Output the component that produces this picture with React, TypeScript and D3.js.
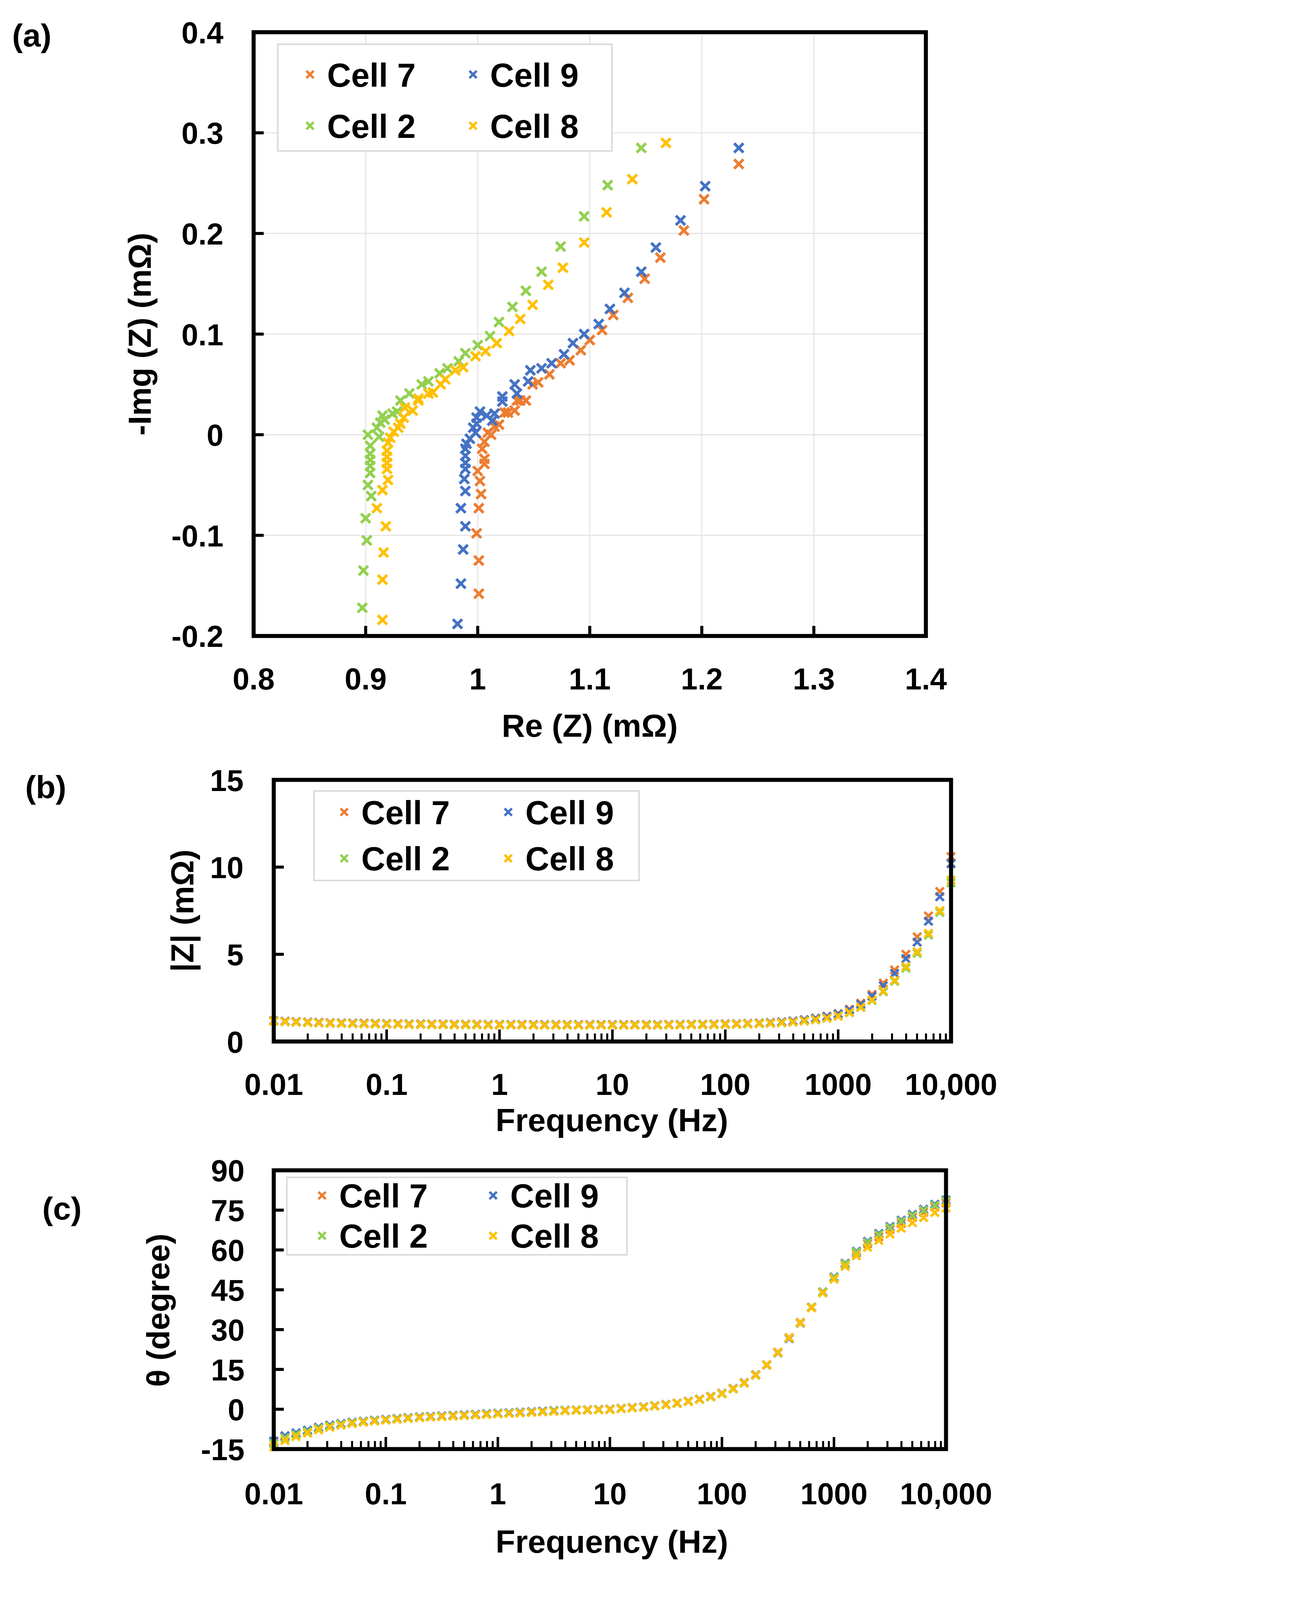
import * as d3 from 'd3';

const COLORS: Record<string, string> = {
  'Cell 7': '#ED7D31',
  'Cell 9': '#4472C4',
  'Cell 2': '#92D050',
  'Cell 8': '#FFC000',
};
const SERIES = ['Cell 7', 'Cell 9', 'Cell 2', 'Cell 8'];

// ── (a) Nyquist data: [Re, -Im] in mΩ ──
const nyq7: [number, number][] = [
  [1.233, 0.269], [1.202, 0.234], [1.184, 0.203], [1.163, 0.176], [1.149, 0.155], [1.134, 0.136],
  [1.121, 0.119], [1.111, 0.104], [1.1, 0.094], [1.092, 0.084], [1.082, 0.074], [1.074, 0.071],
  [1.064, 0.06], [1.054, 0.052], [1.049, 0.05], [1.043, 0.034], [1.038, 0.034], [1.035, 0.034],
  [1.033, 0.024], [1.027, 0.022], [1.024, 0.022], [1.019, 0.01], [1.015, 0.008], [1.012, 0],
  [1.009, 0.002], [1.006, -0.007], [1.004, -0.014], [1.006, -0.024], [1.006, -0.029], [1.0, -0.036],
  [1.002, -0.046], [1.003, -0.059], [1.001, -0.073], [0.999, -0.098], [1.001, -0.125], [1.001, -0.158],
];
const nyq9: [number, number][] = [
  [1.233, 0.285], [1.203, 0.247], [1.181, 0.213], [1.159, 0.186], [1.146, 0.162], [1.131, 0.141],
  [1.118, 0.125], [1.108, 0.11], [1.095, 0.1], [1.085, 0.091], [1.077, 0.08], [1.066, 0.071],
  [1.057, 0.066], [1.047, 0.064], [1.045, 0.053], [1.035, 0.041], [1.033, 0.05], [1.022, 0.038],
  [1.022, 0.033], [1.015, 0.021], [1.013, 0.014], [1.008, 0.019], [1.002, 0.023], [0.999, 0.017],
  [0.999, 0.011], [0.996, 0.007], [0.998, 0.002], [0.993, -0.004], [0.99, -0.009], [0.989, -0.014],
  [0.989, -0.021], [0.989, -0.028], [0.989, -0.034], [0.988, -0.044], [0.989, -0.056], [0.985, -0.073],
  [0.989, -0.091], [0.987, -0.114], [0.985, -0.148], [0.982, -0.188],
];
const nyq2: [number, number][] = [
  [1.146, 0.285], [1.116, 0.248], [1.095, 0.217], [1.074, 0.187], [1.057, 0.162], [1.043, 0.143],
  [1.031, 0.127], [1.019, 0.112], [1.011, 0.098], [1.0, 0.089], [0.989, 0.081], [0.983, 0.073],
  [0.973, 0.066], [0.966, 0.061], [0.956, 0.053], [0.95, 0.05], [0.939, 0.041], [0.931, 0.034],
  [0.928, 0.023], [0.924, 0.021], [0.917, 0.015], [0.915, 0.019], [0.913, 0.012], [0.91, 0.007],
  [0.912, -0.002], [0.902, 0], [0.904, -0.011], [0.904, -0.019], [0.904, -0.025], [0.904, -0.031],
  [0.904, -0.038], [0.902, -0.05], [0.905, -0.061], [0.9, -0.083], [0.901, -0.105], [0.898, -0.135],
  [0.897, -0.172],
];
const nyq8: [number, number][] = [
  [1.168, 0.29], [1.138, 0.254], [1.115, 0.221], [1.095, 0.191], [1.076, 0.166], [1.063, 0.149],
  [1.049, 0.129], [1.038, 0.115], [1.028, 0.103], [1.017, 0.091], [1.007, 0.083], [0.998, 0.078],
  [0.987, 0.067], [0.98, 0.064], [0.971, 0.055], [0.967, 0.05], [0.96, 0.042], [0.956, 0.041],
  [0.947, 0.034], [0.947, 0.036], [0.942, 0.024], [0.935, 0.027], [0.934, 0.017], [0.931, 0.011],
  [0.929, 0.007], [0.925, 0.003], [0.922, -0.003], [0.92, -0.008], [0.919, -0.016], [0.919, -0.022],
  [0.919, -0.028], [0.919, -0.034], [0.92, -0.045], [0.915, -0.055], [0.91, -0.073], [0.918, -0.091],
  [0.916, -0.117], [0.915, -0.144], [0.915, -0.184],
];
const NYQ: Record<string, [number, number][]> = { 'Cell 7': nyq7, 'Cell 9': nyq9, 'Cell 2': nyq2, 'Cell 8': nyq8 };

// ── (b),(c) frequency sweep ──
const FREQ = [
  0.01, 0.0126, 0.0158, 0.02, 0.0251, 0.0316, 0.0398, 0.0501, 0.0631, 0.0794,
  0.1, 0.126, 0.158, 0.2, 0.251, 0.316, 0.398, 0.501, 0.631, 0.794,
  1, 1.26, 1.58, 2, 2.51, 3.16, 3.98, 5.01, 6.31, 7.94,
  10, 12.6, 15.8, 20, 25.1, 31.6, 39.8, 50.1, 63.1, 79.4,
  100, 126, 158, 200, 251, 316, 398, 501, 631, 794,
  1000, 1259, 1585, 1995, 2512, 3162, 3981, 5012, 6310, 7943, 10000,
];

const mag7 = [
  1.2, 1.17, 1.14, 1.12, 1.1, 1.08, 1.07, 1.06, 1.05, 1.04,
  1.03, 1.02, 1.01, 1.01, 1.0, 1.0, 0.99, 0.99, 0.99, 0.98,
  0.98, 0.98, 0.98, 0.97, 0.97, 0.97, 0.97, 0.97, 0.97, 0.97,
  0.97, 0.97, 0.97, 0.97, 0.97, 0.98, 0.98, 0.99, 0.99, 1.0,
  1.01, 1.02, 1.04, 1.06, 1.09, 1.13, 1.18, 1.25, 1.34, 1.45,
  1.6, 1.85, 2.2, 2.7, 3.35, 4.1, 5.0, 6.0, 7.2, 8.6, 10.6,
];
const mag9 = [
  1.19, 1.16, 1.13, 1.11, 1.09, 1.07, 1.06, 1.05, 1.04, 1.03,
  1.02, 1.01, 1.0, 1.0, 0.99, 0.99, 0.98, 0.98, 0.98, 0.97,
  0.97, 0.97, 0.97, 0.96, 0.96, 0.96, 0.96, 0.96, 0.96, 0.96,
  0.96, 0.96, 0.96, 0.96, 0.96, 0.97, 0.97, 0.98, 0.98, 0.99,
  1.0, 1.01, 1.03, 1.05, 1.08, 1.12, 1.17, 1.24, 1.32, 1.43,
  1.57, 1.8, 2.12, 2.6, 3.2, 3.9, 4.75, 5.7, 6.9, 8.3, 10.2,
];
const mag2 = [
  1.16, 1.13, 1.1, 1.08, 1.06, 1.04, 1.03, 1.02, 1.01, 1.0,
  0.99, 0.98, 0.97, 0.97, 0.96, 0.96, 0.95, 0.95, 0.95, 0.94,
  0.94, 0.94, 0.94, 0.93, 0.93, 0.93, 0.93, 0.93, 0.93, 0.93,
  0.93, 0.93, 0.93, 0.93, 0.93, 0.94, 0.94, 0.95, 0.95, 0.96,
  0.97, 0.98, 1.0, 1.02, 1.04, 1.07, 1.11, 1.17, 1.24, 1.33,
  1.45, 1.65, 1.95, 2.35, 2.85, 3.45, 4.2, 5.05, 6.1, 7.4, 9.1,
];
const mag8 = [
  1.17, 1.14, 1.11, 1.09, 1.07, 1.05, 1.04, 1.03, 1.02, 1.01,
  1.0, 0.99, 0.98, 0.98, 0.97, 0.97, 0.96, 0.96, 0.96, 0.95,
  0.95, 0.95, 0.95, 0.94, 0.94, 0.94, 0.94, 0.94, 0.94, 0.94,
  0.94, 0.94, 0.94, 0.94, 0.94, 0.95, 0.95, 0.96, 0.96, 0.97,
  0.98, 0.99, 1.01, 1.03, 1.05, 1.08, 1.12, 1.18, 1.25, 1.34,
  1.46, 1.67, 1.97, 2.38, 2.9, 3.5, 4.3, 5.15, 6.2, 7.5, 9.25,
];
const MAG: Record<string, number[]> = { 'Cell 7': mag7, 'Cell 9': mag9, 'Cell 2': mag2, 'Cell 8': mag8 };

const ph7 = [
  -12.5, -10.4, -9.2, -8.1, -7.0, -6.2, -5.5, -5.0, -4.6, -4.2,
  -3.9, -3.6, -3.3, -3.0, -2.8, -2.6, -2.4, -2.2, -2.0, -1.8,
  -1.6, -1.4, -1.2, -1.0, -0.8, -0.6, -0.4, -0.3, -0.2, -0.1,
  0.0, 0.3, 0.6, 0.9, 1.3, 1.8, 2.3, 3.0, 3.8, 4.8,
  6.0, 7.8, 10.0, 13.0, 16.8, 21.5, 27.0, 32.7, 38.5, 44.2,
  49.6, 54.6, 58.8, 62.3, 65.0, 67.7, 70.0, 72.3, 74.2, 76.2, 77.7,
];
const ph9 = [
  -12.0, -10.0, -8.9, -7.9, -6.8, -6.0, -5.4, -4.9, -4.5, -4.1,
  -3.8, -3.5, -3.2, -2.9, -2.7, -2.5, -2.3, -2.1, -1.9, -1.7,
  -1.5, -1.3, -1.1, -0.9, -0.7, -0.5, -0.4, -0.3, -0.2, -0.1,
  0.0, 0.3, 0.6, 0.9, 1.3, 1.8, 2.3, 3.0, 3.8, 4.8,
  6.0, 7.8, 10.0, 13.0, 16.6, 21.2, 26.6, 32.4, 38.3, 44.2,
  49.8, 55.0, 59.5, 63.2, 66.2, 68.8, 71.2, 73.4, 75.3, 77.2, 78.8,
];
const ph2 = [
  -13.0, -10.8, -9.5, -8.4, -7.2, -6.4, -5.7, -5.1, -4.7, -4.3,
  -4.0, -3.7, -3.4, -3.1, -2.9, -2.7, -2.5, -2.3, -2.1, -1.9,
  -1.7, -1.5, -1.3, -1.1, -0.9, -0.7, -0.5, -0.4, -0.3, -0.2,
  -0.1, 0.2, 0.5, 0.8, 1.2, 1.7, 2.2, 2.9, 3.7, 4.6,
  5.8, 7.6, 9.8, 12.8, 16.6, 21.3, 26.8, 32.5, 38.4, 44.1,
  49.6, 54.8, 59.2, 62.8, 65.8, 68.4, 70.8, 73.0, 74.9, 76.8, 78.4,
];
const ph8 = [
  -14.2, -11.8, -10.3, -9.0, -7.8, -6.8, -6.0, -5.4, -4.9, -4.5,
  -4.1, -3.8, -3.5, -3.2, -3.0, -2.8, -2.6, -2.4, -2.2, -2.0,
  -1.8, -1.6, -1.4, -1.2, -1.0, -0.8, -0.6, -0.4, -0.3, -0.2,
  -0.1, 0.2, 0.5, 0.8, 1.2, 1.7, 2.2, 2.9, 3.7, 4.7,
  5.9, 7.7, 9.9, 12.9, 16.7, 21.4, 26.9, 32.5, 38.2, 43.8,
  49.0, 53.8, 57.8, 61.0, 63.6, 66.0, 68.2, 70.3, 72.2, 74.1, 75.8,
];
const PH: Record<string, number[]> = { 'Cell 7': ph7, 'Cell 9': ph9, 'Cell 2': ph2, 'Cell 8': ph8 };

const TICKS_A_X = [0.8, 0.9, 1.0, 1.1, 1.2, 1.3, 1.4];
const TICKS_A_Y = [-0.2, -0.1, 0, 0.1, 0.2, 0.3, 0.4];
const TICKS_B_Y = [0, 5, 10, 15];
const TICKS_C_Y = [-15, 0, 15, 30, 45, 60, 75, 90];
const TICKS_F = [0.01, 0.1, 1, 10, 100, 1000, 10000];
const F_LABELS = ['0.01', '0.1', '1', '10', '100', '1000', '10,000'];

const FONT = "'Liberation Sans', Arial, sans-serif";

function Cross({ x, y, color, s = 4.6, w = 2.8 }: { x: number; y: number; color: string; s?: number; w?: number }) {
  return (
    <path
      d={`M${x - s},${y - s}L${x + s},${y + s}M${x - s},${y + s}L${x + s},${y - s}`}
      stroke={color}
      strokeWidth={w}
      fill="none"
    />
  );
}

function Legend({ x, y, w, h, rows, cols }: { x: number; y: number; w: number; h: number; rows: number[]; cols: number[] }) {
  const grid = [
    ['Cell 7', 'Cell 9'],
    ['Cell 2', 'Cell 8'],
  ];
  return (
    <g>
      <rect x={x} y={y} width={w} height={h} fill="#fff" stroke="#d9d9d9" strokeWidth={1.5} />
      {grid.map((row, ri) =>
        row.map((name, ci) => (
          <g key={name}>
            <Cross x={cols[ci]} y={rows[ri]} color={COLORS[name]} s={3.6} w={2.4} />
            <text x={cols[ci] + 17} y={rows[ri] + 12} fontSize={33} fontWeight="bold" fontFamily={FONT}>
              {name}
            </text>
          </g>
        )),
      )}
    </g>
  );
}

function LogAxisTicks({ fx, y0 }: { fx: d3.ScaleLogarithmic<number, number>; y0: number }) {
  const minors: number[] = [];
  for (let e = -2; e < 4; e++) for (let m = 2; m <= 9; m++) minors.push(m * Math.pow(10, e));
  return (
    <g>
      {minors.map((v) => (
        <line key={v} x1={fx(v)} x2={fx(v)} y1={y0} y2={y0 - 8} stroke="#000" strokeWidth={2} />
      ))}
      {TICKS_F.map((v) => (
        <line key={'M' + v} x1={fx(v)} x2={fx(v)} y1={y0} y2={y0 - 12} stroke="#000" strokeWidth={2.5} />
      ))}
    </g>
  );
}

const fmt = (v: number) => String(Math.round(v * 10) / 10);

export default function App() {
  // panel a
  const ax = d3.scaleLinear().domain([0.8, 1.4]).range([252, 920]);
  const ay = d3.scaleLinear().domain([-0.2, 0.4]).range([632, 32]);
  // panel b
  const bx = d3.scaleLog().domain([0.01, 10000]).range([272, 945]);
  const by = d3.scaleLinear().domain([0, 15]).range([1035, 775]);
  // panel c
  const cx = d3.scaleLog().domain([0.01, 10000]).range([272, 940]);
  const cy = d3.scaleLinear().domain([-15, 90]).range([1440, 1163]);

  const tickStyle = { fontSize: 30, fontWeight: 'bold' as const, fontFamily: FONT };
  const titleStyle = { fontSize: 32, fontWeight: 'bold' as const, fontFamily: FONT };

  // viewport is capped in height; fit the whole figure keeping its aspect
  const H = 4096;
  const W = Math.round((H * 3320) / 5154);

  return (
    <svg
      width={W}
      height={H}
      viewBox="0 0 1024 1590"
      style={{ display: 'block', background: '#fff', position: 'absolute', left: 0, top: 0 }}
    >
      {/* ── (a) ── */}
      <text x={12} y={46} {...titleStyle}>(a)</text>
      {TICKS_A_X.slice(1, -1).map((v) => (
        <line key={'gx' + v} x1={ax(v)} x2={ax(v)} y1={32} y2={632} stroke="#e6e6e6" strokeWidth={1.2} />
      ))}
      {TICKS_A_Y.slice(1, -1).map((v) => (
        <line key={'gy' + v} x1={252} x2={920} y1={ay(v)} y2={ay(v)} stroke="#e6e6e6" strokeWidth={1.2} />
      ))}
      {TICKS_A_X.map((v) => (
        <g key={'tx' + v}>
          <line x1={ax(v)} x2={ax(v)} y1={632} y2={622} stroke="#000" strokeWidth={3} />
          <text x={ax(v)} y={685} textAnchor="middle" {...tickStyle}>{fmt(v)}</text>
        </g>
      ))}
      {TICKS_A_Y.map((v) => (
        <g key={'ty' + v}>
          <line x1={252} x2={262} y1={ay(v)} y2={ay(v)} stroke="#000" strokeWidth={3} />
          <text x={222} y={ay(v) + 11} textAnchor="end" {...tickStyle}>{fmt(v)}</text>
        </g>
      ))}
      {SERIES.map((s) =>
        NYQ[s].map(([re, im], i) => <Cross key={s + i} x={ax(re)} y={ay(im)} color={COLORS[s]} />),
      )}
      <rect x={252} y={32} width={668} height={600} fill="none" stroke="#000" strokeWidth={4} />
      <Legend x={276} y={44} w={332} h={106} rows={[74, 125]} cols={[308, 470]} />
      <text x={586} y={732} textAnchor="middle" {...titleStyle}>Re (Z) (mΩ)</text>
      <text transform="translate(150,332) rotate(-90)" textAnchor="middle" {...titleStyle}>-Img (Z) (mΩ)</text>

      {/* ── (b) ── */}
      <text x={25} y={793} {...titleStyle}>(b)</text>
      <LogAxisTicks fx={bx} y0={1035} />
      {TICKS_B_Y.map((v) => (
        <g key={'by' + v}>
          <line x1={272} x2={282} y1={by(v)} y2={by(v)} stroke="#000" strokeWidth={3} />
          <text x={242} y={by(v) + 11} textAnchor="end" {...tickStyle}>{v}</text>
        </g>
      ))}
      {TICKS_F.map((v, i) => (
        <text key={'bf' + v} x={bx(v)} y={1088} textAnchor="middle" {...tickStyle}>{F_LABELS[i]}</text>
      ))}
      {SERIES.map((s) =>
        MAG[s].map((m, i) => <Cross key={s + 'b' + i} x={bx(FREQ[i])} y={by(m)} color={COLORS[s]} s={4} w={2.5} />),
      )}
      <rect x={272} y={775} width={673} height={260} fill="none" stroke="#000" strokeWidth={4} />
      <Legend x={312} y={786} w={323} h={89} rows={[807, 853]} cols={[342, 505]} />
      <text x={608} y={1124} textAnchor="middle" {...titleStyle}>Frequency (Hz)</text>
      <text transform="translate(192,905) rotate(-90)" textAnchor="middle" {...titleStyle}>|Z| (mΩ)</text>

      {/* ── (c) ── */}
      <text x={42} y={1212} {...titleStyle}>(c)</text>
      <LogAxisTicks fx={cx} y0={1440} />
      {TICKS_C_Y.map((v) => (
        <g key={'cy' + v}>
          <line x1={272} x2={282} y1={cy(v)} y2={cy(v)} stroke="#000" strokeWidth={3} />
          <text x={243} y={cy(v) + 11} textAnchor="end" {...tickStyle}>{v}</text>
        </g>
      ))}
      {TICKS_F.map((v, i) => (
        <text key={'cf' + v} x={cx(v)} y={1495} textAnchor="middle" {...tickStyle}>{F_LABELS[i]}</text>
      ))}
      {SERIES.map((s) =>
        PH[s].map((p, i) => <Cross key={s + 'c' + i} x={cx(FREQ[i])} y={cy(p)} color={COLORS[s]} s={4} w={2.5} />),
      )}
      <rect x={272} y={1163} width={668} height={277} fill="none" stroke="#000" strokeWidth={4} />
      <Legend x={285} y={1170} w={338} h={77} rows={[1188, 1228]} cols={[320, 490]} />
      <text x={608} y={1543} textAnchor="middle" {...titleStyle}>Frequency (Hz)</text>
      <text transform="translate(168,1302) rotate(-90)" textAnchor="middle" {...titleStyle}>θ (degree)</text>
    </svg>
  );
}
